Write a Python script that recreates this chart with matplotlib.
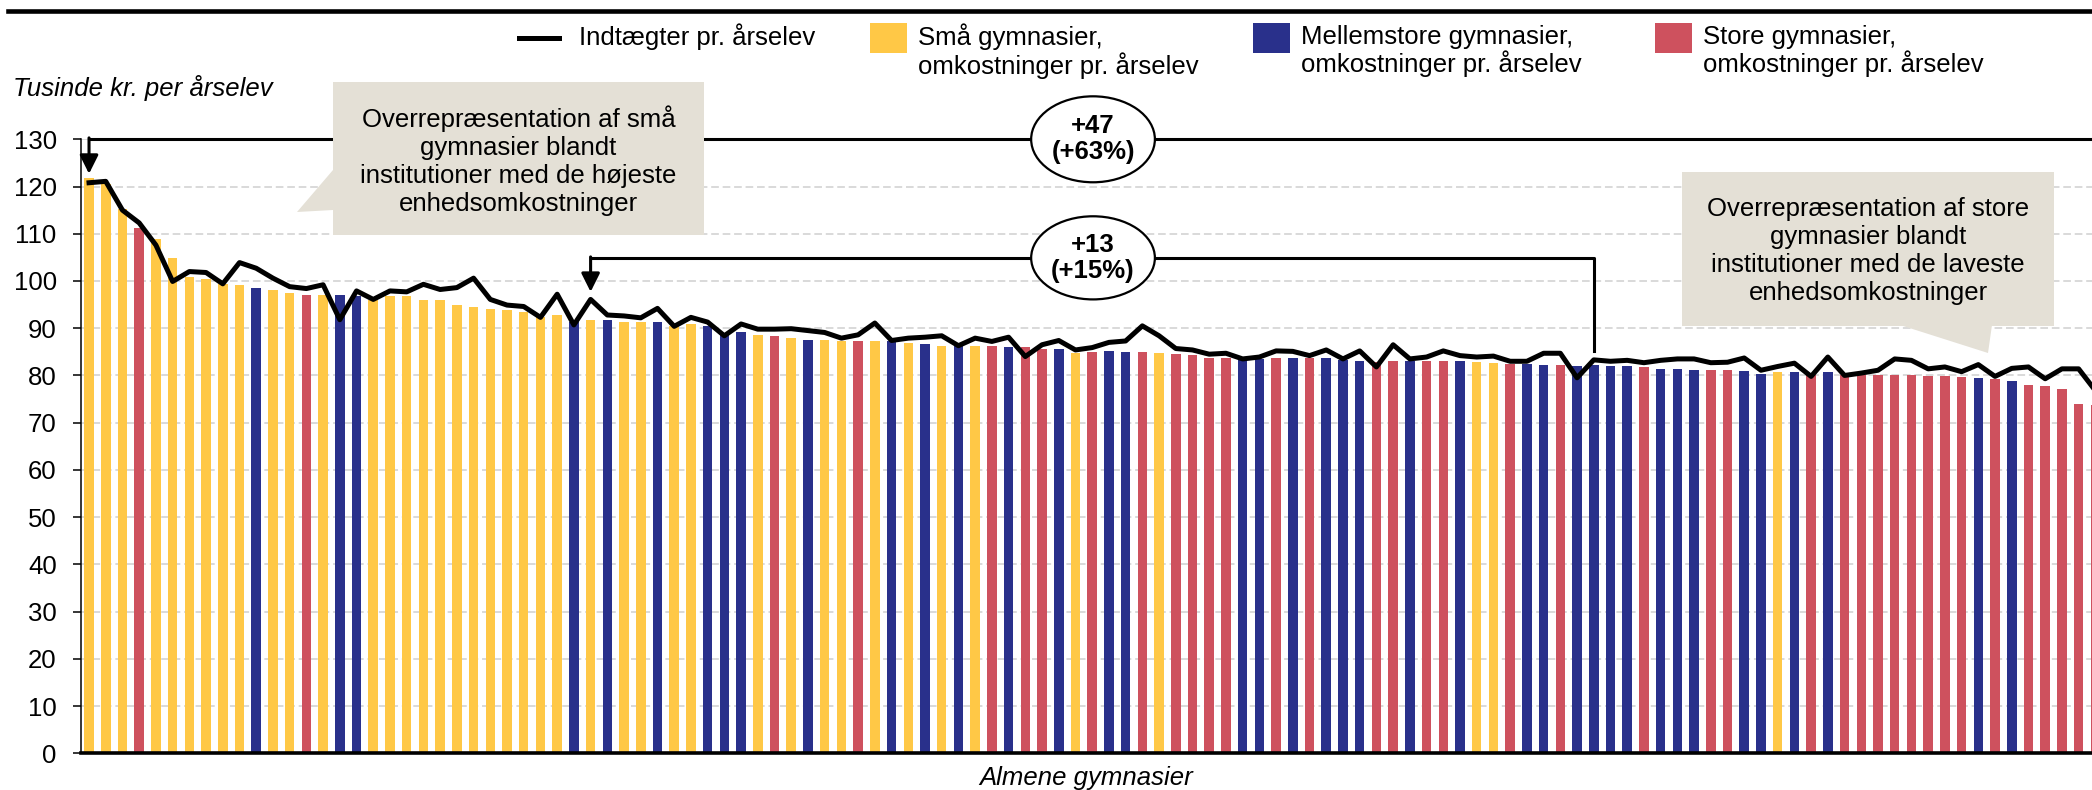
import matplotlib
matplotlib.use("Agg")
import matplotlib.pyplot as plt
from matplotlib.lines import Line2D
from matplotlib.patches import Rectangle, Polygon, Ellipse

plt.rcParams["font.family"] = ["Liberation Sans", "DejaVu Sans"]

# omkostninger pr. årselev (tusinde kr.), sorteret efter indtægt
costs = [121.8, 120.5, 115.3, 111.2, 108.9, 104.9, 100.9, 100.5, 99.4, 99.1,
         98.5, 98.1, 97.5, 97.1, 97.1, 97.1, 96.9, 96.0, 96.8, 96.8,
         95.9, 95.9, 94.9, 94.4, 94.0, 93.9, 93.5, 92.3, 92.8, 91.4,
         91.8, 91.7, 91.4, 91.3, 91.3, 90.4, 90.9, 90.4, 89.0, 89.3,
         88.6, 88.3, 88.0, 87.6, 87.6, 87.2, 87.2, 87.2, 87.2, 86.9,
         86.7, 86.3, 86.2, 86.2, 86.2, 86.1, 86.1, 85.6, 85.6, 84.7,
         85.0, 85.2, 84.9, 84.9, 84.7, 84.6, 84.4, 83.8, 83.8, 83.2,
         83.5, 83.8, 83.8, 83.7, 83.6, 83.2, 83.1, 82.8, 83.1, 83.1,
         83.1, 83.0, 83.0, 82.8, 82.7, 82.5, 82.5, 82.3, 82.3, 82.1,
         82.3, 81.9, 81.9, 81.8, 81.4, 81.3, 81.1, 81.1, 81.1, 80.9,
         80.4, 80.7, 80.7, 80.0, 80.7, 80.0, 80.0, 80.2, 80.2, 80.0,
         79.8, 79.8, 79.6, 79.4, 79.2, 78.9, 77.9, 77.7, 77.2, 73.9,
         73.7]

# S = små, M = mellemstore, L = store
sizes = list("SSSLSSSSSS" "MSSLSMMSSS"
             "SSSSSSSSSM" "SMSSMSSMMM"
             "SLSMSSLSMS" "MSMSLMLLMS"
             "LMMLSLLLLM" "MLMLMMMLLM"
             "LLMSSLMMLM" "MMMLMMMLLM"
             "MSMLMLLLLL" "LLLMLMLLLL"
             "L")

# indtægter pr. årselev
income = [120.8, 121.1, 115.0, 112.3, 107.6, 99.9, 102.0, 101.8, 99.4, 103.9,
          102.7, 100.6, 98.8, 98.4, 99.2, 91.8, 97.9, 96.1, 97.9, 97.7,
          99.3, 98.2, 98.6, 100.6, 96.1, 94.9, 94.6, 92.3, 97.2, 90.7,
          96.1, 92.8, 92.6, 92.2, 94.2, 90.4, 92.3, 91.3, 88.4, 90.9,
          89.8, 89.8, 89.9, 89.5, 89.1, 87.9, 88.6, 91.1, 87.4, 87.9,
          88.1, 88.4, 86.3, 87.9, 87.2, 88.1, 84.0, 86.5, 87.4, 85.4,
          85.9, 87.0, 87.3, 90.5, 88.4, 85.7, 85.4, 84.5, 84.7, 83.5,
          83.9, 85.2, 85.1, 84.2, 85.4, 83.5, 85.2, 81.8, 86.5, 83.5,
          83.9, 85.2, 84.2, 83.9, 84.1, 83.0, 83.0, 84.7, 84.7, 79.5,
          83.3, 83.0, 83.2, 82.7, 83.2, 83.5, 83.5, 82.7, 82.8, 83.7,
          81.1, 81.9, 82.6, 79.8, 83.9, 80.0, 80.5, 81.1, 83.5, 83.2,
          81.4, 81.8, 80.8, 82.3, 79.8, 81.5, 81.8, 79.3, 81.4, 81.4,
          76.8]

yticks = list(range(0, 131, 10))

colors = {"S": "#FFC846", "M": "#29308B", "L": "#CE515E"}
box_col = "#E4E0D6"
fs = 18.5

W, H = 2092, 790
fig = plt.figure(figsize=(W / 100, H / 100), dpi=100)


def fx(x):
    return x / W


def fy(y):
    return 1 - y / H


ax = fig.add_axes([fx(81), fy(753.3), 1 - fx(81), (753.3 - 139.3) / H])

x = list(range(len(costs)))
ax.bar(x, costs, width=0.57, color=[colors[s] for s in sizes], zorder=2)
ax.plot(x, income, color="black", lw=3.6, zorder=5)

ax.set_xlim(-0.48, 119.8)
ax.set_ylim(0, 130)
ax.set_yticks(yticks)
ax.set_xticks([])
ax.yaxis.grid(True, linestyle=(0, (5, 2.5)), color="#CFCFCF", lw=1.1)
ax.set_axisbelow(True)
ax.tick_params(axis="y", direction="out", length=5.5, width=1.1, pad=12,
               labelsize=fs)
for s in ["top", "right"]:
    ax.spines[s].set_visible(False)
ax.spines["left"].set_linewidth(1.1)
ax.spines["bottom"].set_linewidth(2.6)
ax.spines["bottom"].set_zorder(6)

# klammer
ax.plot([0, 130], [130, 130], color="black", lw=2.2, clip_on=False, zorder=6)
ax.annotate("", xy=(0, 122.7), xytext=(0, 130.3),
            arrowprops=dict(arrowstyle="-|>", color="black", lw=2.2,
                            mutation_scale=28, shrinkA=0, shrinkB=0),
            annotation_clip=False, zorder=6)
ax.plot([30, 90, 90], [104.8, 104.8, 85.1], color="black", lw=2.2, zorder=6)
ax.annotate("", xy=(30, 97.7), xytext=(30, 105.1),
            arrowprops=dict(arrowstyle="-|>", color="black", lw=2.2,
                            mutation_scale=28, shrinkA=0, shrinkB=0),
            zorder=6)

for cy, h, txt in [(130, 18.2, "+47\n(+63%)"), (104.9, 17.6, "+13\n(+15%)")]:
    ax.add_patch(Ellipse((60.05, cy), 7.4, h, facecolor="white",
                         edgecolor="black", lw=1.6, clip_on=False, zorder=7))
    ax.text(60.05, cy, txt, ha="center", va="center", fontsize=fs,
            fontweight="bold", linespacing=1.1, zorder=8)

# forklaringsbokse
callouts = [
    ((333, 82, 704, 235), [(333, 170), (297, 212), (333, 210)],
     "Overrepræsentation af små\ngymnasier blandt\ninstitutioner med de højeste\nenhedsomkostninger"),
    ((1682, 172, 2054, 326), [(1900, 325), (1992, 325), (1988, 353)],
     "Overrepræsentation af store\ngymnasier blandt\ninstitutioner med de laveste\nenhedsomkostninger"),
]
for (x0, y0, x1, y1), tri, txt in callouts:
    fig.patches.append(Rectangle((fx(x0), fy(y1)), fx(x1 - x0), (y1 - y0) / H,
                                 transform=fig.transFigure, facecolor=box_col,
                                 edgecolor="none", zorder=10))
    fig.patches.append(Polygon([(fx(a), fy(b)) for a, b in tri],
                               transform=fig.transFigure, facecolor=box_col,
                               edgecolor="none", zorder=10))
    fig.text(fx((x0 + x1) / 2), fy((y0 + y1) / 2 + 2), txt, ha="center",
             va="center", fontsize=fs, linespacing=1.2, zorder=11)

# tekster og streg i toppen
fig.add_artist(Line2D([fx(8), 1], [fy(10.5), fy(10.5)], color="black", lw=3.3))
fig.text(fx(13), fy(88), "Tusinde kr. per årselev", fontsize=fs,
         style="italic", va="center", ha="left")
fig.text(fx(1086), fy(778), "Almene gymnasier", fontsize=fs, style="italic",
         va="center", ha="center")

# signaturforklaring
fig.add_artist(Line2D([fx(519), fx(559)], [fy(38), fy(38)], color="black",
                      lw=3.6))
fig.text(fx(579), fy(37), "Indtægter pr. årselev", fontsize=fs, va="center")
legend_items = [
    (870, colors["S"], "Små gymnasier,\nomkostninger pr. årselev"),
    (1253, colors["M"], "Mellemstore gymnasier,\nomkostninger pr. årselev"),
    (1655, colors["L"], "Store gymnasier,\nomkostninger pr. årselev"),
]
for lx, c, txt in legend_items:
    fig.patches.append(Rectangle((fx(lx), fy(53)), fx(37), 30 / H,
                                 transform=fig.transFigure, facecolor=c,
                                 edgecolor="none"))
    fig.text(fx(lx + 48), fy(51), txt, fontsize=fs, va="center",
             linespacing=1.1)

fig.savefig("out.png", dpi=100)
